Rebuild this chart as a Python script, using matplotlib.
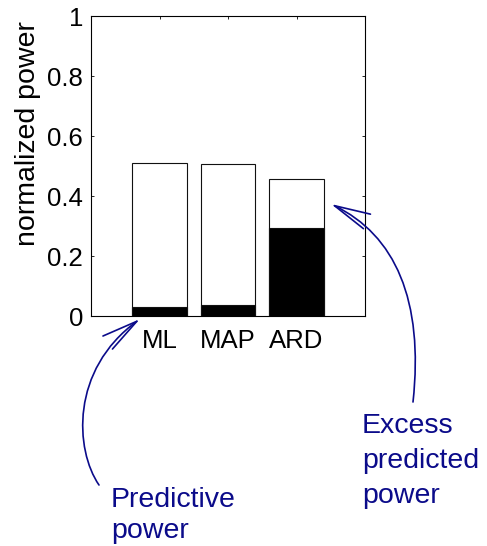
import matplotlib
matplotlib.use("Agg")
import matplotlib.pyplot as plt
from matplotlib.patches import FancyArrowPatch, ArrowStyle
from matplotlib.path import Path
from matplotlib.transforms import Affine2D

plt.rcParams["font.family"] = ["Liberation Sans", "DejaVu Sans"]

# Normalized power per method: total predicted power and the truly predictive part
methods = ["ML", "MAP", "ARD"]
total_power = [0.510, 0.508, 0.458]
predictive_power = [0.031, 0.037, 0.292]
y_ticks = [0, 0.2, 0.4, 0.6, 0.8, 1.0]
y_tick_labels = ["0", "0.2", "0.4", "0.6", "0.8", "1"]

W, H = 487, 546
fig = plt.figure(figsize=(W / 100, H / 100), dpi=100)
ax = fig.add_axes([91 / W, (H - 316) / H, 274 / W, 300 / H])

pos = list(range(1, len(methods) + 1))
ax.bar(pos, total_power, width=0.8, color="white", edgecolor="#111111", linewidth=0.8, zorder=2)
ax.bar(pos, predictive_power, width=0.8, color="black", edgecolor="#111111", linewidth=0.8, zorder=3)

ax.set_xlim(0, 4)
ax.set_ylim(0, 1)
ax.set_xticks(pos)
ax.set_xticklabels(methods)
ax.set_yticks(y_ticks)
ax.set_yticklabels(y_tick_labels)
ax.tick_params(axis="both", direction="in", length=2.3, width=0.6,
               top=True, right=True, labelsize=18.5)
ax.tick_params(axis="y", pad=5.8)
ax.tick_params(axis="x", pad=9)
for s in ax.spines.values():
    s.set_linewidth(0.8)

fig.text(28 / W, (H - 134) / H, "normalized power", rotation=90,
         ha="center", va="center", fontsize=20.5)

navy = "#0b0b8a"
pix = Affine2D().scale(1, -1).translate(0, H)

def curved_arrow(p0, p1, p2, p3):
    path = Path([p0, p1, p2, p3], [Path.MOVETO, Path.CURVE4, Path.CURVE4, Path.CURVE4])
    arr = FancyArrowPatch(path=path,
                          arrowstyle=ArrowStyle("->", head_length=26, head_width=5.8),
                          mutation_scale=1, color=navy, linewidth=1.2,
                          transform=pix)
    fig.add_artist(arr)

curved_arrow((99, 485), (75, 450), (70, 370), (140, 319))
curved_arrow((413, 402), (424, 300), (395, 235), (331, 204))

def label_lines(x, baselines, lines):
    for yb, line in zip(baselines, lines):
        fig.text(x / W, (H - yb) / H, line, color=navy, fontsize=20.5,
                 ha="left", va="baseline")

label_lines(111, [507, 538], ["Predictive", "power"])
label_lines(362, [433, 468, 503], ["Excess", "predicted", "power"])

fig.savefig("out.png", dpi=100)
